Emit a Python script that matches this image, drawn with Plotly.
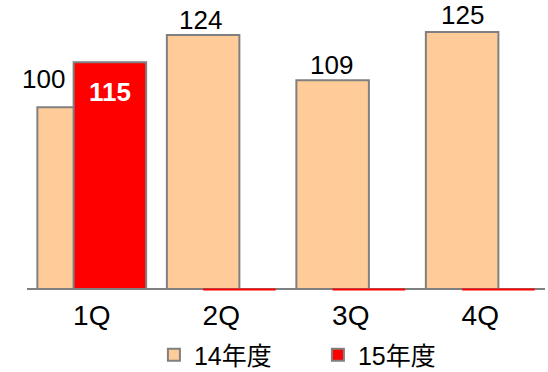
import plotly.graph_objects as go

# Quarterly index values by fiscal year
QUARTERS = ["1Q", "2Q", "3Q", "4Q"]
FY14 = [100, 124, 109, 125]
FY15 = [115, 0, 0, 0]
SERIES_NAMES = ["14年度", "15年度"]

# Axis range (value axis does not start at zero)
Y_MIN, Y_MAX = 40, 134.3

# Bar geometry in category units (bars overlap by half their width)
BAR_W = 0.56
OFF14 = -0.42
OFF15 = -0.14

# Pixel nudges for the value labels of the 14年度 bars
LABEL_DX = [-30, -3, -1, 0]
LABEL_DY = [11, -2, -2, 0]

PEACH = "#FFCC99"
RED = "#FF0000"
EDGE = "#808080"
FONT = "Liberation Sans, Arial, Noto Sans CJK JP, sans-serif"

xs = list(range(len(QUARTERS)))

fig = go.Figure()
fig.add_trace(go.Bar(
    x=xs, y=FY14, name=SERIES_NAMES[0],
    width=BAR_W, offset=OFF14,
    marker=dict(color=PEACH, line=dict(color=EDGE, width=2)),
))
fig.add_trace(go.Bar(
    x=xs, y=FY15, name=SERIES_NAMES[1],
    width=BAR_W, offset=OFF15,
    marker=dict(color=RED, line=dict(color=EDGE, width=2)),
))

annotations = []
for i, v in enumerate(FY14):
    annotations.append(dict(
        x=i + OFF14 + BAR_W / 2, y=v, xref="x", yref="y",
        text=str(v), showarrow=False, yanchor="bottom",
        xshift=LABEL_DX[i], yshift=LABEL_DY[i],
        font=dict(family=FONT, size=26, color="black"),
    ))
shapes = []
for i, v in enumerate(FY15):
    if v > 0:
        annotations.append(dict(
            x=i + OFF15 + BAR_W / 2, y=v, xref="x", yref="y",
            text="<b>%d</b>" % v, showarrow=False, yanchor="top", yshift=-13,
            font=dict(family=FONT, size=26, color="white"),
        ))
    else:
        # empty quarters show as a flat red mark on the baseline
        shapes.append(dict(
            type="line", xref="x", yref="paper",
            x0=i + OFF15, x1=i + OFF15 + BAR_W,
            ysizemode="pixel", yanchor=0, y0=-1.5, y1=-1.5,
            line=dict(color=RED, width=2), layer="above",
        ))

fig.update_layout(
    width=548, height=372,
    margin=dict(l=27, r=3, t=4, b=84, autoexpand=False),
    barmode="overlay",
    plot_bgcolor="white", paper_bgcolor="white",
    font=dict(family=FONT, size=26, color="black"),
    annotations=annotations, shapes=shapes,
    showlegend=True,
    legend=dict(
        orientation="h", x=0.245, xanchor="left", y=-0.155, yanchor="top",
        font=dict(family=FONT, size=25, color="black"),
        entrywidth=119, entrywidthmode="pixels",
        itemclick=False, itemdoubleclick=False,
    ),
)
fig.update_xaxes(
    range=[-0.5, len(QUARTERS) - 0.5],
    tickvals=xs, ticktext=QUARTERS,
    showgrid=False, zeroline=False,
    showline=True, linecolor=EDGE, linewidth=1.5,
    ticks="", ticklabelstandoff=2,
    tickfont=dict(family=FONT, size=28, color="black"),
)
fig.update_yaxes(
    range=[Y_MIN, Y_MAX], visible=False, showgrid=False, zeroline=False,
)

fig.write_html("out.html")
